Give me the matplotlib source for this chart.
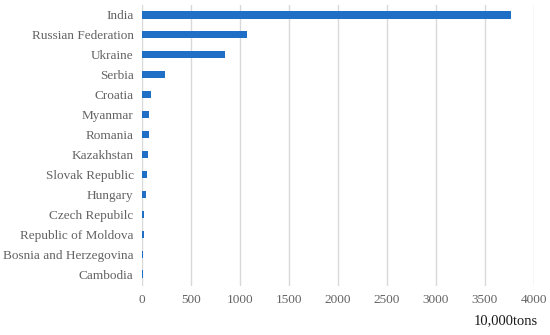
import matplotlib
matplotlib.use("Agg")
import matplotlib.pyplot as plt

countries = ["India", "Russian Federation", "Ukraine", "Serbia", "Croatia",
             "Myanmar", "Romania", "Kazakhstan", "Slovak Republic", "Hungary",
             "Czech Repubilc", "Republic of Moldova", "Bosnia and Herzegovina",
             "Cambodia"]
values = [3770, 1075, 848, 238, 92, 75, 72, 65, 55, 44, 24, 24, 10, 10]
xticks = [0, 500, 1000, 1500, 2000, 2500, 3000, 3500, 4000]

plt.rcParams['font.family'] = ['Liberation Serif', 'DejaVu Serif']
gray = '#636363'

fig = plt.figure(figsize=(5.5, 3.35), dpi=100)
ax = fig.add_axes([0.2582, 0.1463, 0.7127, 0.8388])

ypos = list(range(len(countries)))
ax.barh(ypos, values, height=0.36, color='#1f6fc6', zorder=3)

ax.set_xlim(0, 4000)
ax.set_ylim(len(countries) - 0.4, -0.5)
ax.set_xticks(xticks)
ax.set_xticklabels([str(t) for t in xticks])
ax.set_yticks(ypos)
ax.set_yticklabels(countries)
ax.tick_params(axis='both', length=0, labelsize=9.5, labelcolor=gray)
ax.tick_params(axis='x', pad=6)
ax.tick_params(axis='y', pad=6)

ax.grid(axis='x', color='#d9d9d9', linewidth=1, zorder=0)
for s in ax.spines.values():
    s.set_visible(False)

fig.text(0.977, 0.042, "10,000tons", ha='right', va='center', fontsize=10.5, color='#1a1a1a')

fig.savefig("out.png", dpi=100)
